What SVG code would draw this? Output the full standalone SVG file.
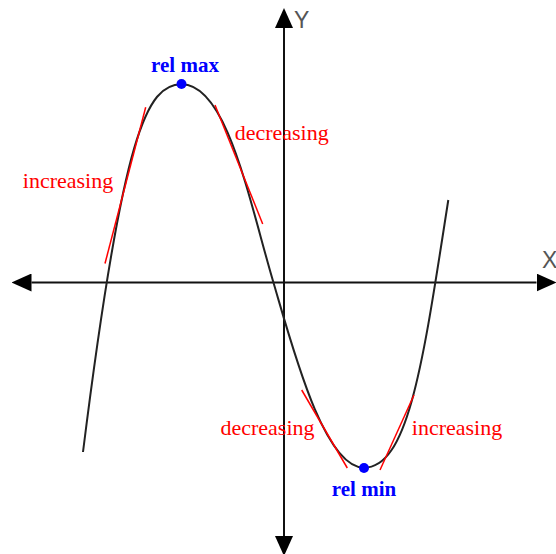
<svg xmlns="http://www.w3.org/2000/svg" width="556" height="554" viewBox="0 0 556 554">
<style>
.axis{stroke:#111;stroke-width:2;fill:none}
.curve{stroke:#222;stroke-width:2;fill:none}
.tan{stroke:#ff0000;stroke-width:1.5;fill:none}
.lbl{font-family:"Liberation Serif","Times New Roman",serif;font-size:22px;fill:#ff0000;text-anchor:middle}
.ext{font-family:"Liberation Serif","Times New Roman",serif;font-size:21px;font-weight:bold;fill:#0000ff;text-anchor:middle}
.axl{font-family:"Liberation Sans",Arial,sans-serif;font-size:23px;fill:#555}
.dot{fill:#0000ff}
</style>
<defs>
<marker id="arr" viewBox="0 0 20 18" refX="0" refY="9" markerWidth="20" markerHeight="18" markerUnits="userSpaceOnUse" orient="auto-start-reverse">
<path d="M0,0 L20,9 L0,18 z" fill="#000"/>
</marker>
</defs>
<rect width="556" height="554" fill="#fff"/>
<g id="axes">
<line class="axis" x1="31.5" y1="282.5" x2="536.5" y2="282.5" marker-start="url(#arr)" marker-end="url(#arr)"/>
<line class="axis" x1="284" y1="28" x2="284" y2="536" marker-start="url(#arr)" marker-end="url(#arr)"/>
<text class="axl" x="294" y="28">Y</text>
<text class="axl" x="542" y="268">X</text>
</g>
<g id="curve">
<path class="curve" d="M83,452 C123,132 146.7,84.3 181.7,84.3 C226.7,84.3 248.3,197 273.3,282 C293.3,350 324,467.7 364,467.7 C409,467.7 423.3,360 448.3,200"/>
</g>
<g id="tangents">
<line class="tan" x1="105" y1="263.5" x2="145.7" y2="107.3"/>
<line class="tan" x1="215" y1="105" x2="262.7" y2="224"/>
<line class="tan" x1="301.7" y1="390" x2="347.3" y2="468"/>
<line class="tan" x1="380" y1="470" x2="414" y2="395"/>
</g>
<g id="labels">
<text class="lbl" x="68" y="187.5">increasing</text>
<text class="lbl" x="281.7" y="140">decreasing</text>
<text class="lbl" x="267.5" y="435">decreasing</text>
<text class="lbl" x="457" y="435">increasing</text>
</g>
<g id="rel-max">
<circle class="dot" cx="181.5" cy="84" r="5"/>
<text class="ext" x="185" y="72">rel max</text>
</g>
<g id="rel-min">
<circle class="dot" cx="364" cy="468" r="5"/>
<text class="ext" x="364" y="496">rel min</text>
</g>
</svg>
